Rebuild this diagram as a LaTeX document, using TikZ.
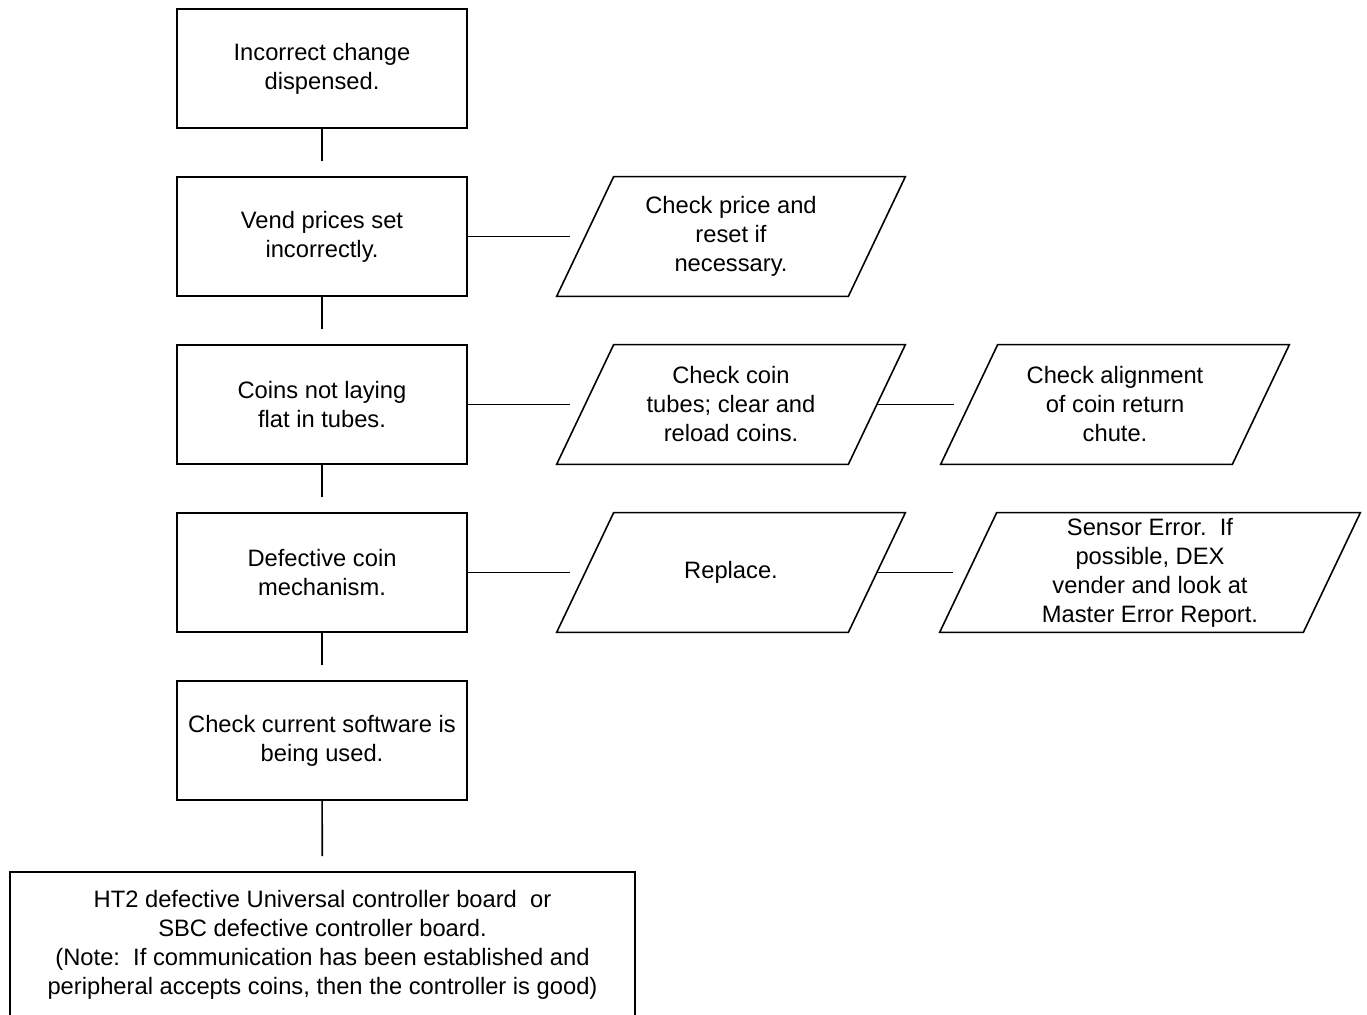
\documentclass[tikz,border=0pt]{standalone}
\usepackage{fontspec}
\setmainfont{Liberation Sans}
\usepackage{tikz}
\usetikzlibrary{positioning}
\tikzset{
  stublink/.style={line width=0.9pt, black, shorten >=0.3cm},
  slantline/.style={line width=0.9pt, black, line join=miter}
}

\begin{document}
\begin{tikzpicture}[
    box/.style={rectangle, draw, line width=0.9pt, minimum width=5.8cm, minimum height=2.38cm, font=\fontsize{13.5}{16.5}\selectfont, align=center, inner sep=2pt},
    io/.style={rectangle, minimum width=5.82cm, minimum height=2.38cm, font=\fontsize{13.5}{16.5}\selectfont, align=center, inner sep=1pt}
]
    \useasboundingbox (0,0) rectangle (27.34,-20.3);

    \node[box] (change) at (6.44, -1.37) {Incorrect change\\dispensed.};
    \node[box] (prices) at (6.44, -4.73) {Vend prices set\\incorrectly.};
    \node[box] (tubes) at (6.44, -8.09) {Coins not laying\\flat in tubes.};
    \node[box] (mech) at (6.44, -11.45) {Defective coin\\mechanism.};
    \node[box] (soft) at (6.44, -14.81) {Check current software is\\being used.};
    \node[box, minimum width=12.5cm, minimum height=2.9cm] (board) at (6.45, -18.89) {HT2 defective Universal controller board\ \ or\\SBC defective controller board.\\(Note:\ \ If communication has been established and\\peripheral accepts coins, then the controller is good)};

    \node[io] (pricefix) at (14.62, -4.73) {Check price and\\reset if\\necessary.};
    \node[io] (tubefix) at (14.62, -8.09) {Check coin\\tubes; clear and\\reload coins.};
    \node[io] (chute) at (22.3, -8.09) {Check alignment\\of coin return\\chute.};
    \node[io] (replace) at (14.62, -11.45) {Replace.};
    \node[io, minimum width=7.26cm] (sensor) at (23.0, -11.45) {Sensor Error.\ \ If\\possible, DEX\\vender and look at\\Master Error Report.};

    % slanted outlines
    \foreach \n in {pricefix, tubefix, chute, replace, sensor}
        \draw[slantline] ([xshift=0.57cm]\n.north west) -- ([xshift=0.57cm]\n.north east)
            -- ([xshift=-0.57cm]\n.south east) -- ([xshift=-0.57cm]\n.south west) -- cycle;

    % main column
    \draw[stublink] (change) -- (prices);
    \draw[stublink] (prices) -- (tubes);
    \draw[stublink] (tubes) -- (mech);
    \draw[stublink] (mech) -- (soft);
    \draw[stublink] (soft) -- (board);

    % remedies
    \draw[stublink] (prices) -- (pricefix);
    \draw[stublink] (tubes) -- (tubefix);
    \draw[stublink] (tubefix) -- (chute);
    \draw[stublink] (mech) -- (replace);
    \draw[stublink] (replace) -- (sensor);
\end{tikzpicture}
\end{document}
